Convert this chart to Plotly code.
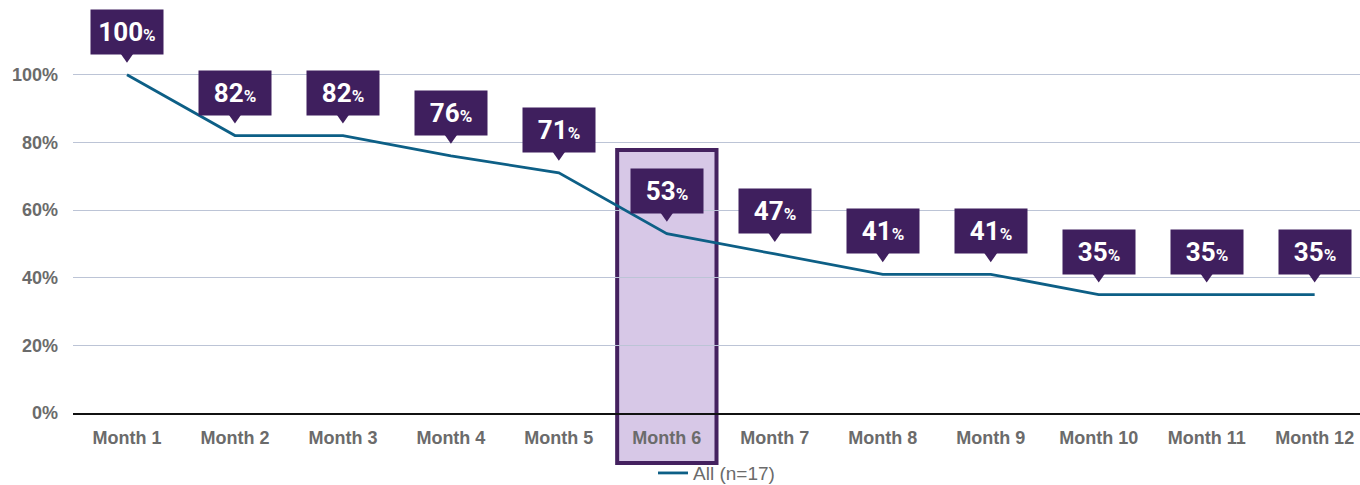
import plotly.graph_objects as go

months = ["Month 1", "Month 2", "Month 3", "Month 4", "Month 5", "Month 6",
          "Month 7", "Month 8", "Month 9", "Month 10", "Month 11", "Month 12"]
values = [1.00, 0.82, 0.82, 0.76, 0.71, 0.53, 0.47, 0.41, 0.41, 0.35, 0.35, 0.35]
label_pct = [100, 82, 82, 76, 71, 53, 47, 41, 41, 35, 35, 35]
y_ticks = [0, 0.2, 0.4, 0.6, 0.8, 1.0]
y_tick_labels = ["0%", "20%", "40%", "60%", "80%", "100%"]
series_name = "All (n=17)"
highlight_month = "Month 6"

PURPLE = "#3f1f5e"
LINE = "#0d5f86"
GREY = "#6b6b6b"

fig = go.Figure()
fig.add_trace(go.Scatter(
    x=months, y=values, mode="lines", name=series_name,
    line=dict(color=LINE, width=2.8), showlegend=True,
))

hi = months.index(highlight_month)
fig.add_shape(type="rect", xref="x", yref="paper",
              x0=hi - 0.46, x1=hi + 0.46, y0=-0.123, y1=0.648,
              fillcolor="#d7c8e7", line=dict(color="#44215f", width=4),
              layer="below")

for m, v, p in zip(months, values, label_pct):
    fig.add_shape(type="path", xref="x", yref="y",
                  xsizemode="pixel", ysizemode="pixel",
                  xanchor=m, yanchor=v,
                  path="M -7,22 L 7,22 L 0,12 Z",
                  fillcolor=PURPLE, line=dict(width=0))
    fig.add_annotation(x=m, y=v, xref="x", yref="y",
                       text=f"<b>{p}</b><span style='font-size:17px'><b>%</b></span>",
                       showarrow=False, yanchor="bottom", yshift=20,
                       width=58, height=30, align="center", valign="middle",
                       bgcolor=PURPLE, borderpad=7,
                       font=dict(family="Roboto, Arial", size=26, color="white"))

fig.update_layout(
    width=1360, height=485,
    margin=dict(l=73, r=0, t=7, b=72, autoexpand=False),
    paper_bgcolor="white", plot_bgcolor="white",
    font=dict(family="Arial, Liberation Sans", color=GREY),
    showlegend=True,
    legend=dict(orientation="h", x=0.5, xanchor="center", y=-0.148, yanchor="middle",
                bgcolor="rgba(0,0,0,0)",
                font=dict(size=19, color=GREY, family="Arial, Liberation Sans")),
    xaxis=dict(range=[-0.5, 11.42], showgrid=False, showline=True,
               linecolor="#111111", linewidth=2, automargin=False,
               ticklabelstandoff=7,
               tickfont=dict(size=18, color=GREY, family="Arial, Liberation Sans", weight="bold"),
               ticks="", fixedrange=True),
    yaxis=dict(range=[0, 1.2], tickvals=y_ticks, ticktext=y_tick_labels,
               showgrid=True, gridcolor="#bcc4d6", gridwidth=1.3, automargin=False,
               zeroline=False, showline=False, ticklabelstandoff=14,
               tickfont=dict(size=18, color=GREY, family="Arial, Liberation Sans", weight="bold"),
               fixedrange=True),
)

fig.write_html("out.html",
               post_script="document.body.style.margin='0';document.body.style.overflow='hidden';",
               config={"displayModeBar": False})
